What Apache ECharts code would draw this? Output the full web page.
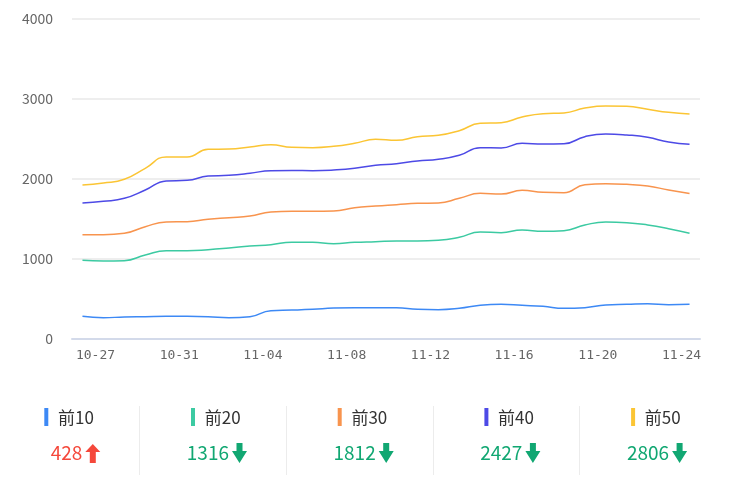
<!DOCTYPE html>
<html>
<head>
<meta charset="utf-8">
<script src="https://cdn.jsdelivr.net/npm/echarts@6/dist/echarts.min.js"></script>
<style>
html,body{margin:0;padding:0;background:#fff;}
#chart{width:737px;height:483px;}
</style>
</head>
<body>
<div id="chart"></div>
<script>
// ---- data ----
const categories = ['10-27','10-28','10-29','10-30','10-31','11-01','11-02','11-03','11-04','11-05',
  '11-06','11-07','11-08','11-09','11-10','11-11','11-12','11-13','11-14','11-15',
  '11-16','11-17','11-18','11-19','11-20','11-21','11-22','11-23','11-24','11-25'];
const seriesNames = ['前10','前20','前30','前40','前50'];
const top10 = [277,260,269,273,277,277,273,260,273,348,355,365,381,385,385,385,365,360,377,415,427,415,402,377,385,419,427,435,423,428];
const top20 = [977,969,973,1044,1098,1098,1110,1131,1156,1173,1204,1202,1185,1202,1210,1219,1219,1227,1265,1331,1323,1356,1340,1348,1419,1456,1448,1419,1373,1316];
const top30 = [1298,1298,1315,1398,1456,1460,1490,1510,1531,1581,1590,1590,1594,1635,1656,1673,1690,1694,1752,1815,1806,1852,1827,1823,1923,1935,1927,1906,1856,1812];
const top40 = [1694,1715,1752,1856,1969,1977,2031,2040,2065,2098,2100,2098,2106,2127,2165,2185,2219,2240,2290,2385,2381,2440,2431,2435,2523,2556,2544,2515,2456,2427];
const top50 = [1919,1944,1990,2127,2269,2269,2365,2369,2394,2423,2390,2385,2402,2440,2490,2477,2523,2540,2598,2690,2698,2769,2810,2819,2881,2906,2902,2865,2827,2806];
const yTicks = [0,1000,2000,3000,4000];

const allSeries = [top10, top20, top30, top40, top50];
const colors = ['#3D89F5','#3CCAA2','#F8944E','#4D4AE6','#FBC534'];
const upColor = '#F5483B';
const downColor = '#11A772';

const chart = echarts.init(document.getElementById('chart'), null, {renderer:'canvas'});

const FONT = '"Microsoft YaHei","Noto Sans CJK SC",sans-serif';

const graphic = [];
const step = 146.7;
// dividers
for (let k = 1; k < 5; k++) {
  const x = Math.round(139.3 + step*(k-1)) + 0.5;
  graphic.push({type:'line', shape:{x1:x,y1:406,x2:x,y2:475}, style:{stroke:'#ececec',lineWidth:1}, silent:true});
}
allSeries.forEach((arr, k) => {
  const last = arr[arr.length-1];
  const prev = arr[arr.length-2];
  const up = last > prev;
  const bx = 44.3 + step*k;
  graphic.push({type:'rect', shape:{x:bx,y:408,width:4,height:18}, style:{fill:colors[k]}, silent:true});
  graphic.push({type:'text', x: bx + 13.7, y: 417.5, style:{text:seriesNames[k], fill:'#333', font:'17px '+FONT, align:'left', verticalAlign:'middle'}, silent:true});
  const vs = String(last);
  const right = 82.3 + step*k;
  const col = up ? upColor : downColor;
  graphic.push({type:'text', x: right, y: 453, style:{text:vs, fill:col, font:'19px '+FONT, align:'right', verticalAlign:'middle'}, silent:true});
  const ax = right + 3 + 7.5;
  let pts;
  if (up) {
    pts = [[ax,444],[ax+7.5,452],[ax+3,452],[ax+3,463],[ax-3,463],[ax-3,452],[ax-7.5,452]];
  } else {
    pts = [[ax-3,443],[ax+3,443],[ax+3,451],[ax+7.5,451],[ax,463],[ax-7.5,451],[ax-3,451]];
  }
  graphic.push({type:'polygon', shape:{points:pts}, style:{fill:col}, silent:true});
});

const option = {
  animation:false,
  color: colors,
  grid:{left:72, right:37, top:18.5, bottom:144.5, containLabel:false},
  xAxis:{
    type:'category',
    data:categories,
    boundaryGap:true,
    axisLine:{lineStyle:{color:'#D3DAEA', width:2}},
    axisTick:{alignWithLabel:true, interval:3, length:10, lineStyle:{color:'#D3DAEA', width:1.5}},
    axisLabel:{interval:3, color:'#666', fontSize:13, fontFamily:'"DejaVu Sans Mono",monospace', margin:11, padding:[0,0,0,26]}
  },
  yAxis:{
    type:'value',
    min:yTicks[0], max:yTicks[yTicks.length-1], interval:yTicks[1]-yTicks[0],
    axisLine:{show:false}, axisTick:{show:false},
    axisLabel:{color:'#666', fontSize:14, margin:19, fontFamily:FONT, formatter: v => String(v)},
    splitLine:{lineStyle:{color:'#E8E8E8', width:1.5}}
  },
  series: allSeries.map((arr,k)=>({
    name:seriesNames[k], type:'line', data:arr, smooth:true, showSymbol:false,
    lineStyle:{width:1.5, color:colors[k]}
  })),
  graphic: graphic
};
chart.setOption(option);
</script>
</body>
</html>
